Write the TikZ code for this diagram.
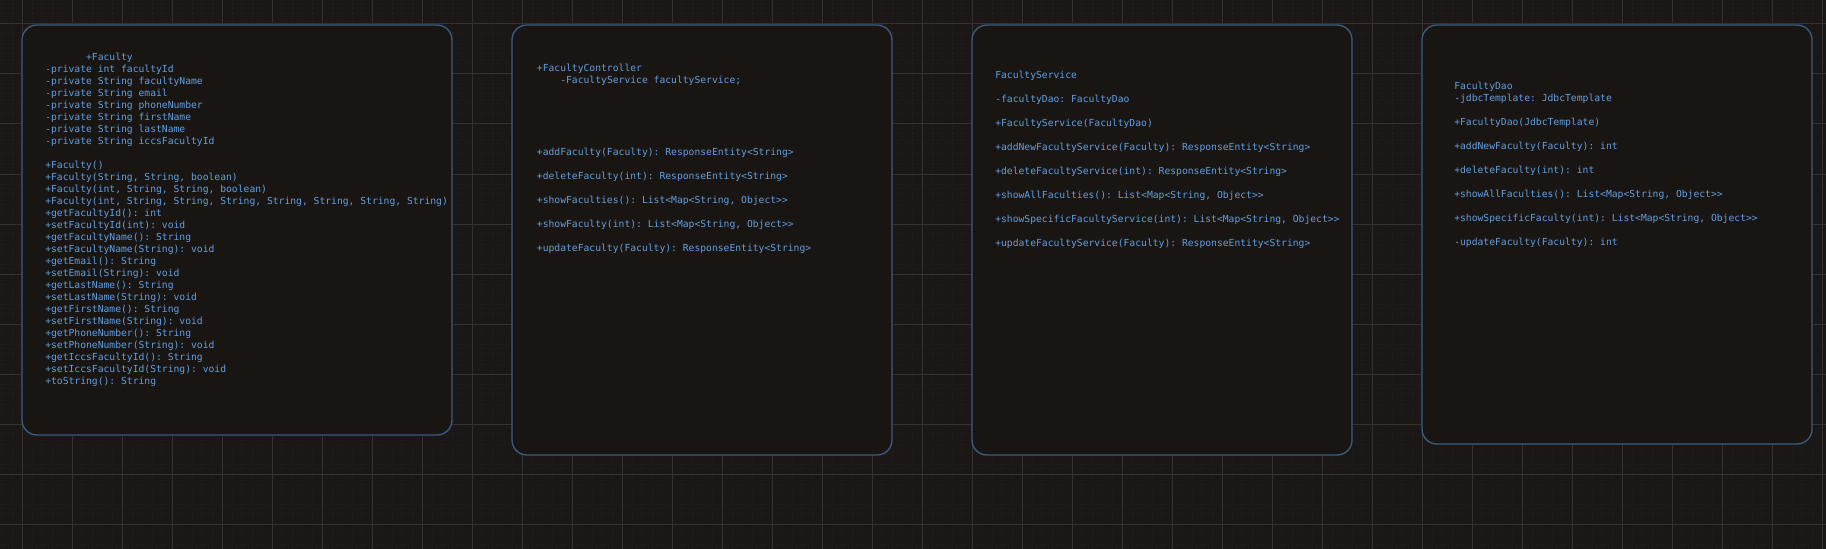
\documentclass[tikz,border=0pt]{standalone}
\usepackage{fontspec}
\setmonofont{DejaVu Sans Mono}
\definecolor{bgc}{RGB}{27,23,22}
\definecolor{boxfill}{RGB}{25,21,19}
\definecolor{boxline}{RGB}{58,92,130}
\definecolor{txtc}{RGB}{98,160,225}
\definecolor{majorc}{RGB}{52,49,47}
\definecolor{minorc}{RGB}{36,32,30}
\newcommand{\fl}{\rule{0pt}{7pt}}
\begin{document}
\begin{tikzpicture}[x=0.75pt,y=-0.75pt,
  minorline/.style={draw=minorc,line width=0.75pt,dash pattern=on 0.75pt off 2.25pt},
  majorline/.style={draw=majorc,line width=0.75pt},
  umlbox/.style={draw=boxline,fill=boxfill,line width=1pt,rounded corners=11.25pt,inner sep=0pt},
  umltext/.style={anchor=north west,inner sep=0pt,align=left,text=txtc,
    font=\ttfamily\fontsize{7.27pt}{9pt}\selectfont}]
\useasboundingbox (0,0) rectangle (1826,549);
\fill[bgc] (0,0) rectangle (1826,549);
\foreach \i in {0,...,182} \draw[minorline] ({2.7+10*\i},0) -- ({2.7+10*\i},549);
\foreach \j in {0,...,54} \draw[minorline] (0,{4+10*\j}) -- (1826,{4+10*\j});
\foreach \i in {0,...,36} \draw[majorline] ({22.7+50*\i},0) -- ({22.7+50*\i},549);
\foreach \j in {0,...,10} \draw[majorline] (0,{24+50*\j}) -- (1826,{24+50*\j});

\node[umlbox,minimum width=322.5pt,minimum height=307.5pt] (faculty) at (237,230) {};
\node[umlbox,minimum width=285pt,minimum height=322.5pt] (controller) at (702,240) {};
\node[umlbox,minimum width=285pt,minimum height=322.5pt] (service) at (1162,240) {};
\node[umlbox,minimum width=292.5pt,minimum height=314.25pt] (dao) at (1617,234.5) {};

\node[umltext] (facultytxt) at (45,50.9) {\fl\phantom{xxxxxxx}+Faculty\\
-private int facultyId\\
-private String facultyName\\
-private String email\\
-private String phoneNumber\\
-private String firstName\\
-private String lastName\\
-private String iccsFacultyId\\[9pt]
+Faculty()\\
+Faculty(String, String, boolean)\\
+Faculty(int, String, String, boolean)\\
+Faculty(int, String, String, String, String, String, String, String)\\
+getFacultyId(): int\\
+setFacultyId(int): void\\
+getFacultyName(): String\\
+setFacultyName(String): void\\
+getEmail(): String\\
+setEmail(String): void\\
+getLastName(): String\\
+setLastName(String): void\\
+getFirstName(): String\\
+setFirstName(String): void\\
+getPhoneNumber(): String\\
+setPhoneNumber(String): void\\
+getIccsFacultyId(): String\\
+setIccsFacultyId(String): void\\
+toString(): String};

\node[umltext] (controllertxt) at (536.7,61.9) {\fl+FacultyController\\
\phantom{xxxx}-FacultyService facultyService;\\[45pt]
+addFaculty(Faculty): ResponseEntity<String>\\[9pt]
+deleteFaculty(int): ResponseEntity<String>\\[9pt]
+showFaculties(): List<Map<String, Object>>\\[9pt]
+showFaculty(int): List<Map<String, Object>>\\[9pt]
+updateFaculty(Faculty): ResponseEntity<String>};

\node[umltext] (servicetxt) at (995,68.5) {\fl FacultyService\\[9pt]
-facultyDao: FacultyDao\\[9pt]
+FacultyService(FacultyDao)\\[9pt]
+addNewFacultyService(Faculty): ResponseEntity<String>\\[9pt]
+deleteFacultyService(int): ResponseEntity<String>\\[9pt]
+showAllFaculties(): List<Map<String, Object>>\\[9pt]
+showSpecificFacultyService(int): List<Map<String, Object>>\\[9pt]
+updateFacultyService(Faculty): ResponseEntity<String>};

\node[umltext] (daotxt) at (1454,79.9) {\fl FacultyDao\\
-jdbcTemplate: JdbcTemplate\\[9pt]
+FacultyDao(JdbcTemplate)\\[9pt]
+addNewFaculty(Faculty): int\\[9pt]
+deleteFaculty(int): int\\[9pt]
+showAllFaculties(): List<Map<String, Object>>\\[9pt]
+showSpecificFaculty(int): List<Map<String, Object>>\\[9pt]
-updateFaculty(Faculty): int};
\end{tikzpicture}
\end{document}
